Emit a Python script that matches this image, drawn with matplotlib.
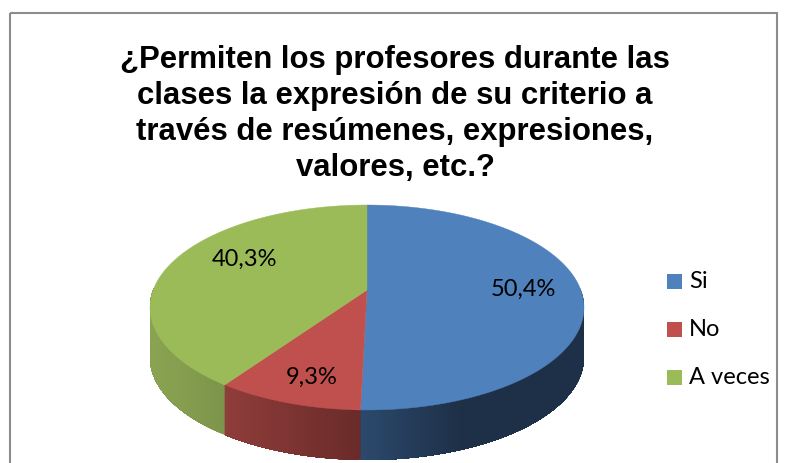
import numpy as np
import matplotlib
matplotlib.use("Agg")
import matplotlib.pyplot as plt
from matplotlib.patches import Rectangle

title = "¿Permiten los profesores durante las\nclases la expresión de su criterio a\ntravés de resúmenes, expresiones,\nvalores, etc.?"
categories = ["Si", "No", "A veces"]
values = [50.4, 9.3, 40.3]
labels = ["50,4%", "9,3%", "40,3%"]
top_colors = ["#4F81BD", "#C0504D", "#9BBB59"]
side_left = ["#2C4A6E", "#8F3D3B", "#8AA352"]
side_right = ["#1E3048", "#6A2B29", "#7C954A"]

W, H = 785, 463
fig = plt.figure(figsize=(W / 100, H / 100), dpi=100)
ax = fig.add_axes([0, 0, 1, 1])
ax.set_xlim(0, W)
ax.set_ylim(H, 0)
ax.axis("off")

CX, CY, A, D, C, DEPTH = 367, 290, 213.8, 99.5, 0.1707, 50
GRAD_SPAN = [100, None, None]


def proj(theta, drop=0.0):
    x, y = np.sin(theta), np.cos(theta)
    w = 1 + C * y
    return CX + A * x / w, CY - D * y / w + drop


def rgb(c):
    return np.array(matplotlib.colors.to_rgb(c))


edges = np.cumsum([0] + values) / sum(values) * 2 * np.pi

# side wall: painted as overlapping strips, so no seams appear between them
for i in range(len(values)):
    lo = max(edges[i], np.pi / 2 - 0.02)
    hi = min(edges[i + 1], 3 * np.pi / 2 + 0.02)
    if hi <= lo:
        continue
    ts = np.linspace(lo, hi, 100)
    xs0 = proj(ts)[0]
    span = GRAD_SPAN[i] or abs(xs0[0] - xs0[-1])
    for k in range(len(ts) - 1):
        seg = ts[k:]
        xa, ya = proj(seg)
        xb, yb = proj(seg[::-1], DEPTH)
        f = min(abs(xs0[k] - xs0[-1]) / span, 1)
        col = rgb(side_left[i]) * (1 - f) + rgb(side_right[i]) * f
        ax.fill(np.r_[xa, xb], np.r_[ya, yb], color=col, lw=0, zorder=2 + i * 0.01)

# top face
for i in range(len(values)):
    ts = np.linspace(edges[i], edges[i + 1], 200)
    xs, ys = proj(ts)
    ax.fill(np.r_[CX, xs], np.r_[CY, ys], color=top_colors[i], lw=0.3, zorder=3)

# frame
ax.add_patch(Rectangle((9.5, 12.5), 767, 470, fill=False, ec="#8C8C8C", lw=1.5, zorder=1))

ax.text(395, 114, title, ha="center", va="center", fontsize=22.4, fontweight="bold",
        family="Liberation Sans", color="black", linespacing=1.27, zorder=5)

label_xy = [(523, 289), (312, 377), (245, 259)]
for (lx, ly), s in zip(label_xy, labels):
    ax.text(lx, ly, s, ha="center", va="center", fontsize=17, family="Lato", color="black", zorder=5)

leg_y = [281, 329, 377]
for yy, c, n in zip(leg_y, top_colors, categories):
    ax.add_patch(Rectangle((667, yy - 7.5), 15, 15, fc=c, ec="none", zorder=5))
    ax.text(689, yy, n, ha="left", va="center", fontsize=17, family="Lato", color="black", zorder=5)

fig.savefig("out.png", dpi=100, facecolor="white")
